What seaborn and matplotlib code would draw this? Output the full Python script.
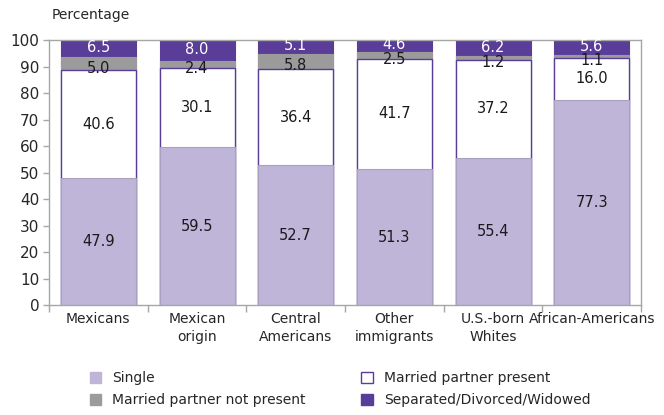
import numpy as np
import pandas as pd
import matplotlib
matplotlib.use("Agg")
import matplotlib.pyplot as plt
from matplotlib.patches import Patch
import seaborn as sns

# data
groups = ["Mexicans", "Mexican\norigin", "Central\nAmericans", "Other\nimmigrants",
          "U.S.-born\nWhites", "African-Americans"]
single = [47.9, 59.5, 52.7, 51.3, 55.4, 77.3]
married_present = [40.6, 30.1, 36.4, 41.7, 37.2, 16.0]
married_not_present = [5.0, 2.4, 5.8, 2.5, 1.2, 1.1]
separated = [6.5, 8.0, 5.1, 4.6, 6.2, 5.6]

LAVENDER = "#bfb5d9"
PURPLE = "#5a3d99"
GREY = "#9b9b9b"
FRAME = "#a6a6a6"


def main():
    sns.set_style("white")
    plt.rcParams["font.family"] = ["DejaVu Sans"]

    df = pd.DataFrame({
        "group": groups,
        "single": single,
        "present": married_present,
        "not_present": married_not_present,
        "separated": separated,
    })
    df["cum1"] = df["single"]
    df["cum2"] = df["cum1"] + df["present"]
    df["cum3"] = df["cum2"] + df["not_present"]
    df["cum4"] = df["cum3"] + df["separated"]

    fig = plt.figure(figsize=(6.64, 4.15), dpi=100)
    ax = fig.add_axes([0.0738, 0.265, 0.8916, 0.6386])

    w = 0.76
    # overlay cumulative bars, tallest first
    sns.barplot(data=df, x="group", y="cum4", color=PURPLE, saturation=1,
                width=w, edgecolor=PURPLE, linewidth=0.8, ax=ax)
    sns.barplot(data=df, x="group", y="cum3", color=GREY, saturation=1,
                width=w, edgecolor=GREY, linewidth=0.8, ax=ax)
    sns.barplot(data=df, x="group", y="cum2", color="white", saturation=1,
                width=w, edgecolor=PURPLE, linewidth=1.0, ax=ax)
    sns.barplot(data=df, x="group", y="cum1", color=LAVENDER, saturation=1,
                width=w, edgecolor="#a9a1bf", linewidth=0.8, ax=ax)

    # segment labels
    for i, row in df.iterrows():
        ax.text(i, row["cum1"] / 2, f"{row['single']:.1f}", ha="center", va="center",
                fontsize=10.5, color="#1a1a1a")
        ax.text(i, (row["cum1"] + row["cum2"]) / 2, f"{row['present']:.1f}", ha="center",
                va="center", fontsize=10.5, color="#1a1a1a")
        ax.text(i, (row["cum2"] + row["cum3"]) / 2 - 1.6, f"{row['not_present']:.1f}",
                ha="center", va="center", fontsize=10.5, color="#1a1a1a")
        ax.text(i, (row["cum3"] + 100) / 2 + 0.4, f"{row['separated']:.1f}", ha="center",
                va="center", fontsize=10.5, color="white")

    ax.set_ylim(0, 100)
    ax.set_xlim(-0.5, len(groups) - 0.5)
    ax.set_yticks(np.arange(0, 101, 10))
    ax.set_xlabel("")
    ax.set_ylabel("")
    ax.tick_params(axis="y", labelsize=11, length=4, color=FRAME, width=1,
                   left=True, pad=3)
    ax.set_xticks(range(len(groups)))
    ax.set_xticklabels(groups, fontsize=10, linespacing=1.4)
    ax.set_xticks(np.arange(-0.5, len(groups), 1), minor=True)
    ax.tick_params(axis="x", which="major", length=0, pad=5)
    ax.tick_params(axis="x", which="minor", length=5, color=FRAME, width=1, bottom=True)
    for s in ax.spines.values():
        s.set_visible(True)
        s.set_color(FRAME)
        s.set_linewidth(1)

    fig.text(0.078, 0.963, "Percentage", fontsize=10, ha="left", va="center")

    handles = [
        Patch(facecolor=LAVENDER, edgecolor=LAVENDER, label="Single"),
        Patch(facecolor=GREY, edgecolor=GREY, label="Married partner not present"),
        Patch(facecolor="white", edgecolor=PURPLE, label="Married partner present"),
        Patch(facecolor=PURPLE, edgecolor=PURPLE, label="Separated/Divorced/Widowed"),
    ]
    fig.legend(handles=handles, loc="lower left", bbox_to_anchor=(0.117, -0.012),
               ncol=2, frameon=False, fontsize=10, handlelength=0.8,
               handleheight=0.8, handletextpad=0.8, columnspacing=4.0,
               labelspacing=0.6)

    fig.savefig("out.png", dpi=100)


if __name__ == "__main__":
    main()
